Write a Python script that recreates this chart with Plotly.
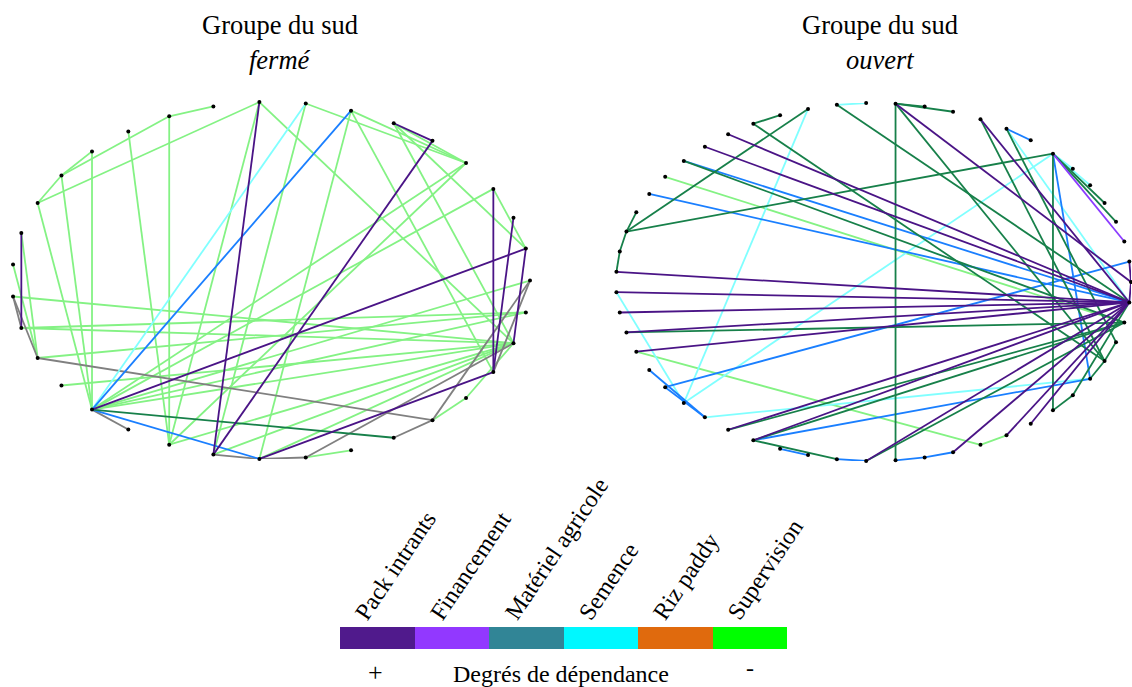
import numpy as np
import plotly.graph_objects as go

W, H = 1132, 687
FONT = 'Liberation Serif'

# legend (bottom colour bar)
categories = ['Pack intrants', 'Financement', 'Matériel agricole', 'Semence', 'Riz paddy', 'Supervision']
category_colors = ['#501a8c', '#9238ff', '#318596', '#00f8ff', '#e06a0d', '#00ff00']

# colours of the links in the two networks
violet = '#4a1486'
violet_clair = '#8c3cff'
vert_fonce = '#17804a'
bleu = '#1a7fff'
cyan = '#80ffff'
vert_clair = '#84f284'
gris = '#808080'

# number of actors on each circle
n_ferme = 35
n_ouvert = 55

# ---- Groupe du sud, fermé : links (node i, node j)
ferme_vert_clair = [(11, 10), (14, 11), (14, 13), (15, 9), (15, 14), (15, 22), (14, 22), (13, 22),
                    (12, 24), (11, 24), (9, 24), (9, 33), (8, 25), (7, 26), (8, 4), (7, 4), (6, 4),
                    (6, 33), (7, 32), (6, 1), (4, 22), (4, 24), (3, 22), (3, 1), (16, 20), (17, 20),
                    (18, 33), (19, 33), (19, 34), (20, 34), (21, 33), (22, 33), (22, 34), (22, 0),
                    (24, 33), (25, 33), (26, 33), (27, 28), (30, 31), (31, 33)]
ferme_gris = [(25, 26), (26, 27), (22, 23), (18, 19), (18, 20), (20, 30), (29, 30), (0, 30), (0, 32), (27, 33)]
ferme_cyan = [(8, 22)]
ferme_bleu = [(7, 22), (22, 26)]
ferme_vert_fonce = [(22, 29)]
ferme_violet_clair = []
ferme_violet = [(9, 25), (5, 25), (6, 5), (16, 19), (1, 22), (3, 32), (2, 32), (1, 33), (32, 26)]

# ---- Groupe du sud, ouvert
ouvert_vert_clair = [(22, 53), (31, 45), (45, 46)]
ouvert_gris = []
ouvert_cyan = [(16, 34), (28, 34), (34, 7), (35, 50), (9, 54), (7, 5), (7, 6), (14, 15)]
ouvert_bleu = [(21, 54), (23, 54), (33, 1), (37, 50), (7, 50), (9, 8), (32, 35), (33, 35),
               (38, 39), (40, 41), (42, 43), (43, 44)]
ouvert_vert_fonce = [(17, 18), (18, 51), (25, 16), (25, 7), (25, 24), (25, 26), (26, 27), (21, 53),
                     (30, 53), (36, 53), (37, 53), (41, 53), (37, 40), (13, 42), (7, 48), (15, 54),
                     (13, 12), (13, 11), (13, 51), (10, 51), (9, 52), (7, 4), (7, 3), (48, 49),
                     (49, 54), (50, 51), (51, 52)]
ouvert_violet_clair = [(7, 2)]
ouvert_violet = [(19, 54), (20, 54), (27, 54), (28, 54), (29, 54), (30, 54), (31, 54), (36, 54),
                 (37, 54), (41, 54), (44, 54), (46, 54), (47, 54), (10, 54), (13, 0), (0, 1), (0, 54)]


def add_network(fig, n, links, xa, ya):
    '''
    draws one circular network: links first, then the actors as small black dots
    '''
    angle = 2 * np.pi * np.arange(n) / n
    px, py = np.cos(angle), np.sin(angle)
    for color, pairs in links:
        xs, ys = [], []
        for a, b in pairs:
            xs += [px[a], px[b], None]
            ys += [py[a], py[b], None]
        fig.add_trace(go.Scatter(x=xs, y=ys, mode='lines', line=dict(color=color, width=1.8),
                                 xaxis=xa, yaxis=ya, hoverinfo='skip', showlegend=False,
                                 cliponaxis=False))
    fig.add_trace(go.Scatter(x=px, y=py, mode='markers', marker=dict(color='black', size=4),
                             xaxis=xa, yaxis=ya, hoverinfo='skip', showlegend=False,
                             cliponaxis=False))


fig = go.Figure()

add_network(fig, n_ferme,
            [(vert_clair, ferme_vert_clair), (gris, ferme_gris), (cyan, ferme_cyan),
             (bleu, ferme_bleu), (vert_fonce, ferme_vert_fonce),
             (violet_clair, ferme_violet_clair), (violet, ferme_violet)], 'x', 'y')
add_network(fig, n_ouvert,
            [(vert_clair, ouvert_vert_clair), (gris, ouvert_gris), (cyan, ouvert_cyan),
             (bleu, ouvert_bleu), (vert_fonce, ouvert_vert_fonce),
             (violet_clair, ouvert_violet_clair), (violet, ouvert_violet)], 'x2', 'y2')

# colour bar of the legend
fig.add_trace(go.Bar(x=categories, y=[1] * len(categories), marker=dict(color=category_colors, line=dict(width=0)),
                     width=1, xaxis='x3', yaxis='y3', hoverinfo='skip', showlegend=False))


def px_x(v):
    return v / W


def px_y(v):
    return 1 - v / H


hidden = dict(visible=False, fixedrange=True)
fig.update_layout(
    width=W, height=H,
    margin=dict(l=0, r=0, t=0, b=0),
    paper_bgcolor='white', plot_bgcolor='white',
    font=dict(family=FONT, size=24, color='black'),
    bargap=0,
    xaxis=dict(domain=[px_x(12), px_x(530)], range=[-1, 1], anchor='y', **hidden),
    yaxis=dict(domain=[px_y(459.1), px_y(101.9)], range=[-1, 1], anchor='x', **hidden),
    xaxis2=dict(domain=[px_x(616), px_x(1131)], range=[-1, 1], anchor='y2', **hidden),
    yaxis2=dict(domain=[px_y(461), px_y(103)], range=[-1, 1], anchor='x2', **hidden),
    xaxis3=dict(domain=[px_x(340), px_x(787)], range=[-0.5, 5.5], anchor='y3', **hidden),
    yaxis3=dict(domain=[px_y(649), px_y(627)], range=[0, 1], anchor='x3', **hidden),
)

notes = [
    dict(text='Groupe du sud', x=px_x(280), y=px_y(25), size=26.5),
    dict(text='<i>fermé</i>', x=px_x(280), y=px_y(60), size=26.5),
    dict(text='Groupe du sud', x=px_x(880), y=px_y(25), size=26.5),
    dict(text='<i>ouvert</i>', x=px_x(880), y=px_y(60), size=26.5),
    dict(text='+', x=px_x(375), y=px_y(672), size=26),
    dict(text='Degrés de dépendance', x=px_x(561), y=px_y(674), size=24),
    dict(text='-', x=px_x(750), y=px_y(668), size=24),
]
for a in notes:
    fig.add_annotation(xref='paper', yref='paper', showarrow=False, xanchor='center', yanchor='middle',
                       text=a['text'], x=a['x'], y=a['y'], font=dict(size=a['size']))

# rotated category labels sitting on the colour bar
for i, cat in enumerate(categories):
    fig.add_annotation(text=cat, x=i - 0.5 + 0.1, y=1, xref='x3', yref='y3', showarrow=False,
                       xanchor='left', yanchor='bottom', textangle=-56, font=dict(size=24))

# the page body has a default 8px margin, remove it so the figure fills the window
fig.write_html("out.html", config=dict(displayModeBar=False),
               post_script="document.body.style.margin='0px';")
